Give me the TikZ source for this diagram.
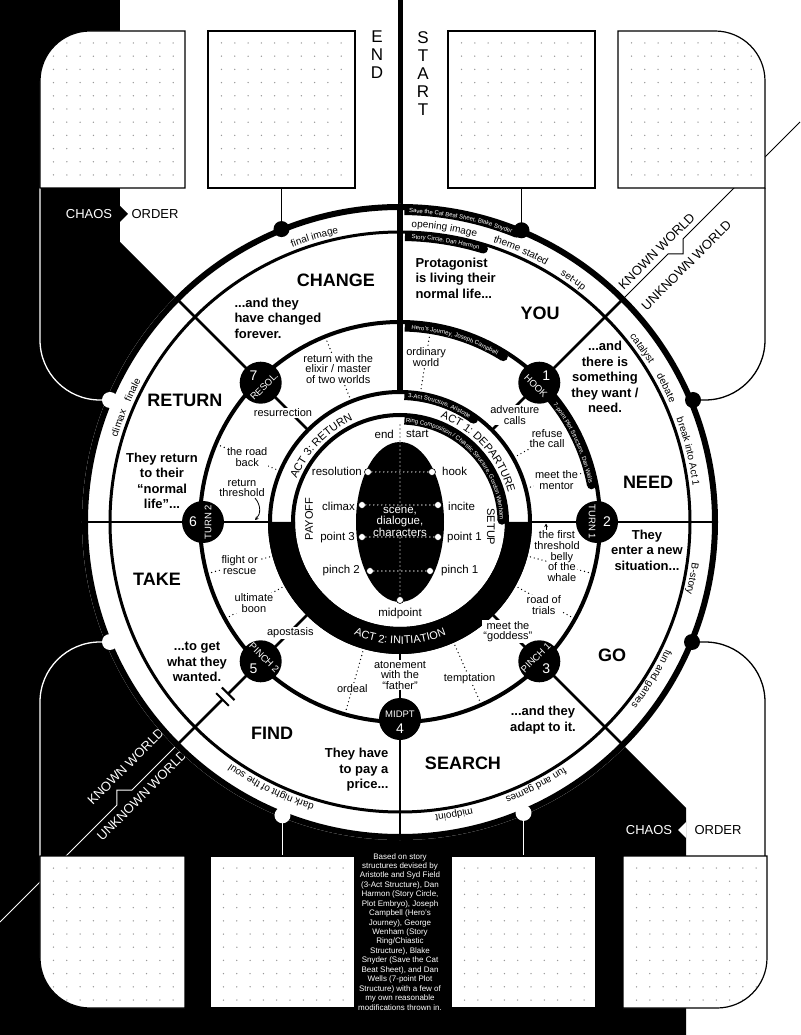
\documentclass[tikz,border=0pt]{standalone}
\usepackage{fontspec}
\setmainfont{Liberation Sans}
\usetikzlibrary{calc,decorations.text,arrows.meta}
\definecolor{DotClr}{gray}{0.6}

\newcommand{\bandfnt}{\fontsize{10}{10}\selectfont}
\newcommand{\tagfnt}{\fontsize{6}{6}\selectfont}
\newcommand{\actfnt}{\fontsize{11}{11}\selectfont}
\newcommand{\arclabel}[6][]{\path[decorate,decoration={text along path,text align=center,#1,text={|#2|#6}}] (#4:#3) arc[start angle=#4,end angle=#5,radius=#3];}
\newcommand{\tagband}[3]{\draw[line width=9pt] (#2:#1) arc[start angle=#2,end angle=#3,radius=#1]; \fill (#3:#1) circle (4.5);}
\newcommand{\dotgrid}[2]{\foreach \cx in {0,...,9}{\foreach \cy in {0,...,10}{\fill[DotClr] ({#1+13.5+13.3*\cx},{#2-12-13.2*\cy}) circle (0.75);}}}

\begin{document}
\begin{tikzpicture}[x=1pt,y=1pt,
  padbox/.style={draw=black,fill=white,line width=1.2pt},
  leader/.style={line width=1.4pt,dash pattern=on 0pt off 4pt,line cap=round},
  beatlbl/.style={font=\fontsize{11}{10.5}\selectfont,align=center,fill=white,inner sep=1pt},
  bigword/.style={font=\fontsize{18}{18}\selectfont\bfseries},
  storytxt/.style={font=\fontsize{13}{15.5}\selectfont\bfseries,align=center},
  pointlbl/.style={font=\fontsize{11.5}{12}\selectfont,inner sep=1pt},
  ptdot/.style={circle,fill=white,draw=black,line width=0.6pt,minimum size=7pt,inner sep=0pt},
  plotnode/.style={circle,fill=black,minimum size=42pt,inner sep=0pt},
  nodetxt/.style={text=white,font=\fontsize{9.5}{9.5}\selectfont,inner sep=0pt},
  nodenum/.style={text=white,font=\fontsize{14}{14}\selectfont,inner sep=0pt},
  worldlbl/.style={font=\fontsize{13}{13}\selectfont,rotate=45,inner sep=0pt},
  chaoslbl/.style={font=\fontsize{13}{13}\selectfont,inner sep=0pt},
  tinyarrow/.style={line width=0.8pt,-{Stealth[length=3.5pt,width=3.5pt]}}]

\useasboundingbox (-400,-513) rectangle (400,522);
\fill[white] (-400,-513) rectangle (400,522);
\fill[black] (-400,522) -- (-280,522) -- (-280,280) -- (0,0) -- (286,-286) -- (286,-513) -- (-400,-513) -- cycle;
\fill[black] (-280,316) -- (-272,308) -- (-280,300) -- cycle;
\fill[white] (286,-300) -- (278,-308) -- (286,-316) -- cycle;

\node[chaoslbl,text=white] (chaostop) at (-311,308) {CHAOS};
\node[chaoslbl] (ordertop) at (-245,308) {ORDER};
\node[chaoslbl,text=white] (chaosbot) at (249,-308) {CHAOS};
\node[chaoslbl] (orderbot) at (318,-308) {ORDER};

\draw[line width=5pt] (0,522) -- (0,300);
\node[anchor=north,font=\fontsize{17}{18}\selectfont,align=center,inner sep=0pt] (endlbl) at (-23,491) {E\\N\\D};
\node[anchor=north,font=\fontsize{17}{18}\selectfont,align=center,inner sep=0pt] (startlbl) at (23,491) {S\\T\\A\\R\\T};

\coordinate (bumpTL) at (-290,122);
\coordinate (bumpTR) at (293,122);
\coordinate (bumpBR) at (292,-120);
\coordinate (bumpBL) at (-290,-120);
\coordinate (dfinal) at (-118.5,292.9);
\coordinate (dtheme) at (121.5,291.7);
\coordinate (ddark) at (-117.5,-293.3);
\coordinate (dmid) at (123.5,-290.9);
\coordinate (pad2) at (-118.5,334);
\coordinate (pad3) at (121.5,334);
\coordinate (pad6) at (-117.5,-334);
\coordinate (pad7) at (123.5,-334);

\draw[line width=1pt] (45:318) -- (268,268) -- (283,268) -- (283,283) -- (400,400);
\draw[white,line width=1pt] (-135:318) -- (-268,-268) -- (-283,-268) -- (-283,-283) -- (-400,-400);
\draw[white,line width=1.3pt] (bumpTL) -- (-300,122) arc[start angle=270,end angle=180,radius=60] -- (-360,334);
\draw[line width=1.3pt] (bumpTR) -- (305,122) arc[start angle=-90,end angle=0,radius=60] -- (365,334);
\draw[line width=1.3pt] (bumpBR) -- (305,-120) arc[start angle=90,end angle=0,radius=60] -- (365,-334);
\draw[white,line width=1.3pt] (bumpBL) -- (-300,-120) arc[start angle=90,end angle=180,radius=60] -- (-360,-334);
\draw[line width=1.5pt] (pad2) -- (dfinal);
\draw[line width=1.5pt] (pad3) -- (dtheme);
\draw[white,line width=1.5pt] (pad6) -- (ddark);
\draw[white,line width=1.5pt] (pad7) -- (dmid);

\filldraw[padbox,path picture={\dotgrid{-360}{491}}] (-360,334) -- (-360,441) arc[start angle=180,end angle=90,radius=50] -- (-215,491) -- (-215,334) -- cycle;
\filldraw[padbox,path picture={\dotgrid{-192}{491}}] (-192,334) rectangle (-45,491);
\filldraw[padbox,path picture={\dotgrid{48}{491}}] (48,334) rectangle (195,491);
\filldraw[padbox,path picture={\dotgrid{218}{491}}] (218,334) -- (218,491) -- (315,491) arc[start angle=90,end angle=0,radius=50] -- (365,334) -- cycle;
\filldraw[padbox,path picture={\dotgrid{-360}{-334}}] (-360,-334) -- (-360,-436) arc[start angle=180,end angle=270,radius=50] -- (-215,-486) -- (-215,-334) -- cycle;
\filldraw[padbox,path picture={\dotgrid{-190}{-334}}] (-190,-486) rectangle (-45,-334);
\filldraw[padbox,path picture={\dotgrid{51}{-334}}] (51,-486) rectangle (196,-334);
\filldraw[padbox,path picture={\dotgrid{223}{-334}}] (223,-334) -- (223,-486) -- (317,-486) arc[start angle=270,end angle=360,radius=50] -- (367,-334) -- cycle;

\node[anchor=north,font=\fontsize{8}{9.44}\selectfont,text=white,align=center,inner sep=0pt] (credits) at (0,-331) {Based on story\\structures devised by\\Aristotle and Syd Field\\(3-Act Structure), Dan\\Harmon (Story Circle,\\Plot Embryo), Joseph\\Campbell (Hero's\\Journey), George\\Wenham (Story\\Ring/Chiastic\\Structure), Blake\\Snyder (Save the Cat\\Beat Sheet), and Dan\\Wells (7-point Plot\\Structure) with a few of\\my own reasonable\\modifications thrown in.};

\node[worldlbl] (knownTR) at (256.7,270.8) {KNOWN WORLD};
\node[worldlbl] (unknownTR) at (286.4,256.7) {UNKNOWN WORLD};
\node[worldlbl,text=white] (knownBL) at (-274.4,-244.7) {KNOWN WORLD};
\node[worldlbl,text=white] (unknownBL) at (-258.1,-273.7) {UNKNOWN WORLD};

\fill[white] (0,0) circle (318);
\draw[line width=6pt] (0,0) circle (315);
\draw[line width=3pt] (0,0) circle (290);
\draw[line width=4pt] (0,0) circle (200);

\draw[line width=6pt] (0,318) -- (0,130);
\draw[line width=2pt] (0,-130) -- (0,-318);
\draw[line width=2pt] (-318,0) -- (-130,0) (130,0) -- (318,0);
\draw[line width=2.5pt] (45:130) -- (45:318);
\draw[line width=2.5pt] (135:130) -- (135:318);
\draw[line width=2.5pt] (-45:130) -- (-45:318);
\draw[line width=2.5pt] (-135:130) -- (-135:243) (-135:251) -- (-135:318);
\draw[line width=2pt] ($(-135:243)+(-45:9)$) -- ($(-135:243)+(135:9)$);
\draw[line width=2pt] ($(-135:251)+(-45:9)$) -- ($(-135:251)+(135:9)$);
\foreach \a in {81,29.5,15,-15,-29,-66,-106,-151,-165,157,112}
  \draw[leader] (\a:135) -- (\a:196);

\draw[line width=4pt] (0,0) circle (130);
\draw[line width=4pt] (0,0) circle (107);
\fill (180:132) arc[start angle=180,end angle=360,radius=132] -- (0:105) arc[start angle=360,end angle=180,radius=105] -- cycle;

\tagband{311.5}{89.2}{68}
\tagband{285.5}{89}{73}
\tagband{195}{88.6}{58}
\tagband{195}{42}{11}
\tagband{126.5}{88}{54.4}
\tagband{102}{87.5}{1}
\arclabel[text color=white]{\tagfnt}{309.3}{89.2}{68}{Save the Cat Beat Sheet{,} Blake Snyder}
\arclabel[text color=white]{\tagfnt}{283.3}{89}{72.5}{Story Circle{,} Dan Harmon}
\arclabel[text color=white]{\tagfnt}{192.8}{89}{57.5}{Hero's Journey{,} Joseph Campbell}
\arclabel[text color=white]{\tagfnt}{192.8}{38.5}{10.5}{7-point Plot Structure{,} Dan Wells}
\arclabel[text color=white]{\tagfnt}{124.3}{88.5}{54}{3-Act Structure{,} Aristotle}
\arclabel[text color=white]{\tagfnt}{99.8}{88}{0}{Ring Composition / Chiastic Structure{,} Gordon Wenham}

\arclabel{\bandfnt}{295}{115.7}{97.7}{final image}
\arclabel{\bandfnt}{295}{91.4}{71.4}{opening image}
\arclabel{\bandfnt}{295}{75}{57}{theme stated}
\arclabel{\bandfnt}{295}{60.4}{48.4}{set-up}
\arclabel{\bandfnt}{295}{41.6}{29.6}{catalyst}
\arclabel{\bandfnt}{295}{32.7}{20.7}{debate}
\arclabel{\bandfnt}{295}{23.7}{3.7}{break into Act 1}
\arclabel{\bandfnt}{295}{-5}{-17}{B-story}
\arclabel{\bandfnt}{295}{-22}{-42}{fun and games}
\arclabel{\bandfnt}{295}{-52.7}{-72.7}{fun and games}
\arclabel{\bandfnt}{295}{-73.5}{-85.5}{midpoint}
\arclabel{\bandfnt}{295}{-101.9}{-129.9}{dark night of the soul}
\arclabel{\bandfnt}{295}{166.7}{154.7}{climax}
\arclabel{\bandfnt}{295}{159.7}{147.7}{finale}

\arclabel{\actfnt}{112}{74}{10}{ACT 1: DEPARTURE}
\arclabel{\actfnt}{112}{166}{106}{ACT 3: RETURN}
\arclabel[text color=white]{\actfnt}{122}{-130}{-50}{ACT 2: INITIATION}
\node[rotate=90,font=\actfnt] (payoff) at (-91,3) {PAYOFF};
\node[rotate=-90,font=\actfnt] (setup) at (91,-5) {SETUP};

\fill (0,0) ellipse [x radius=44,y radius=80];
\coordinate (topdot) at (0,97);
\coordinate (ellipsetop) at (0,80);
\node[ptdot] (mdot) at (0,-78) {};
\draw[leader] (topdot) -- (ellipsetop);
\draw[leader,white] (ellipsetop) -- (mdot);
\node[font=\fontsize{11.5}{10.5}\selectfont,text=white,fill=black,inner sep=0.5pt,align=center] (scene) at (0,0) {scene,\\dialogue,\\characters};
\foreach \py/\px/\nm in {50/32/a,17/38/b,-15/38/c,-49/30/d}{
  \node[ptdot] (l\nm) at (-\px,\py) {};
  \node[ptdot] (r\nm) at (\px,\py) {};
  \draw[leader,white] (l\nm) -- (r\nm);
}
\node[pointlbl,anchor=east] (endpt) at (-5,88) {end};
\node[pointlbl,anchor=west] (startpt) at (5,88) {start};
\node[pointlbl,anchor=east] (resolution) at (-37,51) {resolution};
\node[pointlbl,anchor=west] (hookpt) at (41,51) {hook};
\node[pointlbl,anchor=east] (climax) at (-44,16) {climax};
\node[pointlbl,anchor=west] (incite) at (47,16) {incite};
\node[pointlbl,anchor=east] (pointthree) at (-44,-16) {point 3};
\node[pointlbl,anchor=west] (pointone) at (46,-16) {point 1};
\node[pointlbl,anchor=east] (pinchtwopt) at (-39,-49) {pinch 2};
\node[pointlbl,anchor=west] (pinchonept) at (40,-49) {pinch 1};
\node[pointlbl] (midpoint) at (0,-92) {midpoint};

\node[beatlbl] (ordinary) at (81:167) {ordinary\\world};
\node[beatlbl] (adventure) at (43:157) {adventure\\calls};
\node[beatlbl] (refuse) at (29.5:169) {refuse\\the call};
\node[beatlbl] (mentor) at (15:162) {meet the\\mentor};
\node[beatlbl] (thresholdone) at (157,-18) {the first\\threshold};
\node[beatlbl] (belly) at (-15.5:168) {belly\\of the\\whale};
\node[beatlbl] (trials) at (-30:166) {road of\\trials};
\node[beatlbl] (goddess) at (-45.5:154) {meet the\\“goddess”};
\node[beatlbl] (temptation) at (-66:171) {temptation};
\node[beatlbl] (atonement) at (-90:153) {atonement\\with the\\“father”};
\node[beatlbl] (ordeal) at (-106:173) {ordeal};
\node[beatlbl] (apostasis) at (-134.7:156) {apostasis};
\node[beatlbl] (boon) at (-151:167) {ultimate\\boon};
\node[beatlbl] (flight) at (-165:166) {flight or\\rescue};
\node[beatlbl] (thresholdtwo) at (-158,34) {return\\threshold};
\node[beatlbl] (roadback) at (157:166) {the road\\back};
\node[beatlbl] (resurrection) at (137:160) {resurrection};
\node[beatlbl] (elixir) at (112:165) {return with the\\elixir / master\\of two worlds};
\draw[tinyarrow] ([xshift=-11pt]thresholdone.north) -- ++(0,6);
\draw[tinyarrow] ([xshift=13pt]thresholdtwo.south) .. controls (-139,17) and (-139,8) .. (-145,2);

\node[bigword] (change) at (-64,242) {CHANGE};
\node[bigword] (you) at (140,209) {YOU};
\node[bigword] (need) at (248,40) {NEED};
\node[bigword] (go) at (212,-133) {GO};
\node[bigword] (search) at (63,-241) {SEARCH};
\node[bigword] (find) at (-128,-211) {FIND};
\node[bigword] (take) at (-243,-57) {TAKE};
\node[bigword] (return) at (-215,122) {RETURN};

\node[storytxt,align=left,anchor=west] (living) at (12,244) {Protagonist\\is living their\\normal life...};
\node[storytxt] (want) at (205,145) {...and\\there is\\something\\they want /\\need.};
\node[storytxt] (enter) at (247,-28) {They\\enter a new\\situation...};
\node[storytxt] (adapt) at (143,-198) {...and they\\adapt to it.};
\node[storytxt,align=right,anchor=east] (price) at (-8,-248) {They have\\to pay a\\price...};
\node[storytxt] (wanted) at (-203,-140) {...to get\\what they\\wanted.};
\node[storytxt] (normal) at (-238,41) {They return\\to their\\“normal\\life”...};
\node[storytxt,align=left,anchor=west] (changed) at (-169,204) {...and they\\have changed\\forever.};

\foreach \a/\nm/\lbl/\num/\rot in {45/hook/HOOK/1/-45,0/turnone/TURN 1/2/-90,-45/pinchone/PINCH 1/3/45,-90/midpt/MIDPT/4/0,-135/pinchtwo/PINCH 2/5/-45,180/turntwo/TURN 2/6/90,135/resol/RESOL./7/45}{
  \node[plotnode] (\nm) at (\a:197) {};
  \node[nodetxt,rotate=\rot] (t\nm) at (\a:192) {\lbl};
  \node[nodenum] (n\nm) at (\a:207) {\num};
}

\fill (dfinal) circle (8);
\fill (dtheme) circle (8);
\fill (bumpTR) circle (8);
\fill (bumpBR) circle (8);
\fill[white] (ddark) circle (8);
\fill[white] (dmid) circle (8);
\fill[white] (bumpTL) circle (8);
\fill[white] (bumpBL) circle (8);

\end{tikzpicture}
\end{document}
